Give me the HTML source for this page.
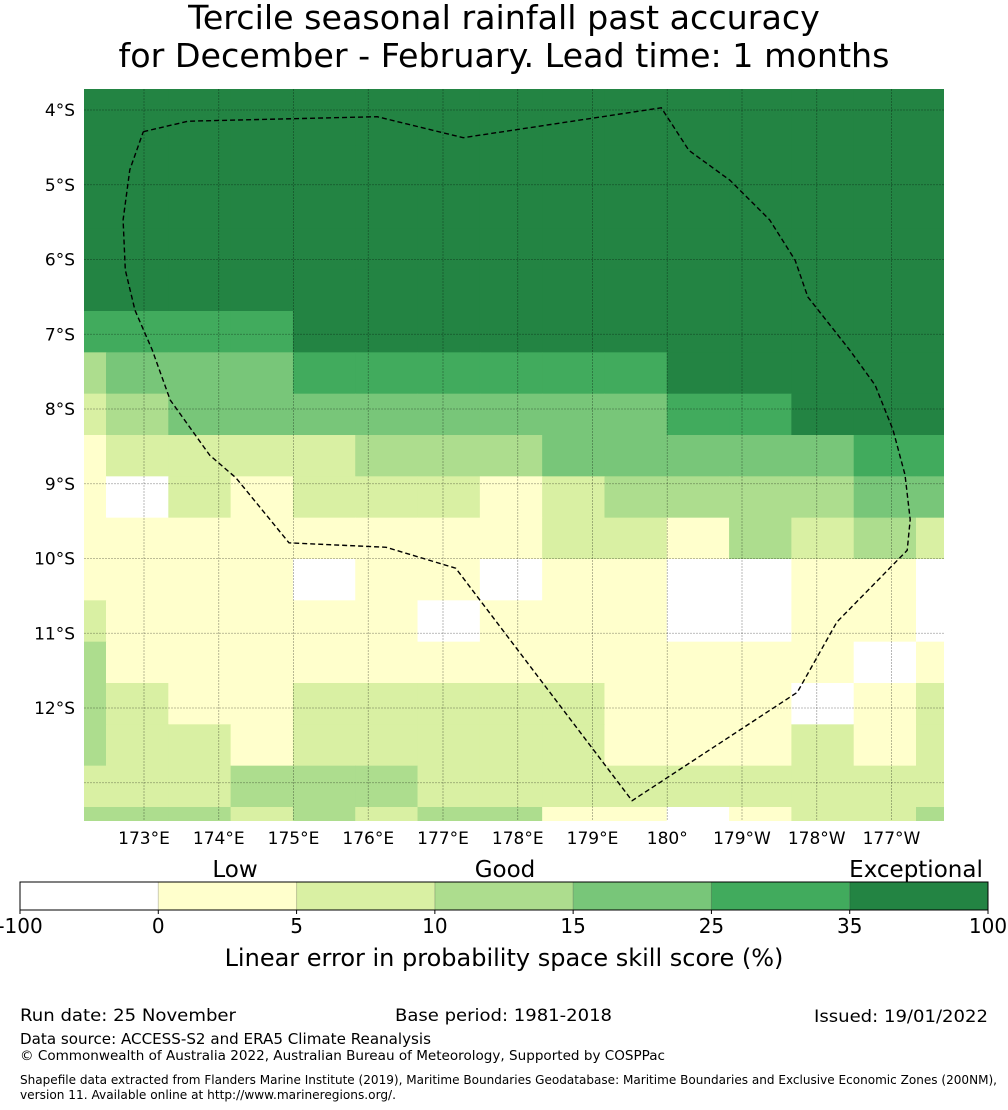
<!DOCTYPE html>
<html><head><meta charset="utf-8">
<style>
html,body{margin:0;padding:0;background:#fff;}
svg{display:block;font-family:"DejaVu Sans","Liberation Sans",sans-serif;}
</style></head>
<body>
<svg id="chart" width="1008" height="1110" viewBox="0 0 1008 1110" xmlns="http://www.w3.org/2000/svg">
  <text x="504" y="29" font-size="33.3" text-anchor="middle">Tercile seasonal rainfall past accuracy</text>
  <text x="504" y="67" font-size="33.3" text-anchor="middle">for December - February. Lead time: 1 months</text>
  <defs><clipPath id="mapclip"><rect x="84" y="89" width="860" height="732"/></clipPath></defs>
  <g id="map" clip-path="url(#mapclip)"></g>
  <g id="lataxis"></g>
  <g id="lonaxis"></g>
  <g id="colorbar"></g>
  <text x="504" y="966" font-size="24" text-anchor="middle">Linear error in probability space skill score (%)</text>
  <g fill="#000">
    <text x="20" y="1021" font-size="17" textLength="216" lengthAdjust="spacingAndGlyphs">Run date: 25 November</text>
    <text x="395" y="1021" font-size="17" textLength="217" lengthAdjust="spacingAndGlyphs">Base period: 1981-2018</text>
    <text x="814" y="1022" font-size="17" textLength="174" lengthAdjust="spacingAndGlyphs">Issued: 19/01/2022</text>
    <text x="20" y="1044" font-size="15" textLength="411" lengthAdjust="spacingAndGlyphs">Data source: ACCESS-S2 and ERA5 Climate Reanalysis</text>
    <text x="20" y="1060" font-size="13" textLength="645" lengthAdjust="spacingAndGlyphs">© Commonwealth of Australia 2022, Australian Bureau of Meteorology, Supported by COSPPac</text>
    <text x="20" y="1084" font-size="12" textLength="977" lengthAdjust="spacingAndGlyphs">Shapefile data extracted from Flanders Marine Institute (2019), Maritime Boundaries Geodatabase: Maritime Boundaries and Exclusive Economic Zones (200NM),</text>
    <text x="20" y="1099" font-size="12" textLength="376" lengthAdjust="spacingAndGlyphs">version 11. Available online at http://www.marineregions.org/.</text>
  </g>
</svg>
<script>
// skill category per cell (0=<0 ... 6=35-100), rows top to bottom, cols west to east
const skillRows = [
  [6,6,6,6,6,6,6,6,6,6,6,6,6,6,6],
  [6,6,6,6,6,6,6,6,6,6,6,6,6,6,6],
  [6,6,6,6,6,6,6,6,6,6,6,6,6,6,6],
  [6,6,6,6,6,6,6,6,6,6,6,6,6,6,6],
  [6,6,6,6,6,6,6,6,6,6,6,6,6,6,6],
  [6,6,6,6,6,6,6,6,6,6,6,6,6,6,6],
  [5,5,5,5,6,6,6,6,6,6,6,6,6,6,6],
  [3,4,4,4,5,5,5,5,5,5,6,6,6,6,6],
  [2,3,4,4,4,4,4,4,4,4,5,5,6,6,6],
  [1,2,2,2,2,3,3,3,4,4,4,4,4,5,5],
  [1,0,2,1,2,2,2,1,2,3,3,3,3,4,4],
  [1,1,1,1,1,1,1,1,2,2,1,3,2,3,2],
  [1,1,1,1,0,1,1,0,1,1,0,0,1,1,0],
  [2,1,1,1,1,1,0,1,1,1,0,0,1,1,0],
  [3,1,1,1,1,1,1,1,1,1,1,1,1,0,1],
  [3,2,1,1,2,2,2,2,2,1,1,1,0,1,2],
  [3,2,2,1,2,2,2,2,2,1,1,1,2,1,2],
  [2,2,2,3,3,3,2,2,2,2,2,2,2,2,2],
  [3,3,3,2,3,2,3,3,1,1,0,1,2,2,3]
];
const levelColors = ["#ffffff","#ffffcc","#d9f0a3","#addd8e","#78c679","#41ab5d","#238443"];
const cbTicks = ["-100","0","5","10","15","25","35","100"];
const cbCategories = ["Low","Good","Exceptional"];
const latLabels = ["4°S","5°S","6°S","7°S","8°S","9°S","10°S","11°S","12°S"];
const latValues = [4,5,6,7,8,9,10,11,12,13];
const lonLabels = ["173°E","174°E","175°E","176°E","177°E","178°E","179°E","180°","179°W","178°W","177°W"];
const lonValues = [173,174,175,176,177,178,179,180,181,182,183];
const eezLon = [172.99,173.59,176.12,177.27,179.92,180.29,180.84,181.37,181.71,181.88,182.44,182.78,183.02,183.18,183.25,183.21,182.27,181.74,179.53,177.17,176.24,174.94,174.23,173.88,173.35,173.11,172.88,172.75,172.72,172.81,172.99];
const eezLat = [4.29,4.15,4.09,4.37,3.97,4.54,4.94,5.47,6.01,6.50,7.21,7.68,8.28,8.88,9.48,9.89,10.85,11.79,13.24,10.13,9.85,9.79,8.92,8.62,7.88,7.21,6.68,6.14,5.47,4.80,4.29];

const NS="http://www.w3.org/2000/svg";
const map=document.getElementById('map');
const colW=(916-106)/13, colX0=106-colW;
const rowH=(807-311)/12, rowY0=311-6*rowH;
const xLon=lon=>144+(lon-173)*74.75;
const yLat=lat=>110+(lat-4)*74.75;
function mk(tag,attrs,parent){const e=document.createElementNS(NS,tag);for(const k in attrs)e.setAttribute(k,attrs[k]);parent.appendChild(e);return e;}

skillRows.forEach((row,r)=>{
  row.forEach((v,c)=>{
    const rect=mk('rect',{x:colX0+c*colW,y:rowY0+r*rowH,width:colW+0.5,height:rowH+0.5,fill:levelColors[v]},map);
    
    
  });
});
lonValues.forEach(lon=>{
  const l=mk('line',{x1:xLon(lon),x2:xLon(lon),y1:89,y2:821,stroke:'#000','stroke-opacity':0.35,'stroke-width':0.8,'stroke-dasharray':'2,1'},map);
  
  
});
latValues.forEach(lat=>{
  const l=mk('line',{x1:84,x2:944,y1:yLat(lat),y2:yLat(lat),stroke:'#000','stroke-opacity':0.35,'stroke-width':0.8,'stroke-dasharray':'2,1'},map);
  
  
});
const pts=eezLon.map((lo,i)=>xLon(lo).toFixed(1)+','+yLat(eezLat[i]).toFixed(1)).join(' ');
const eez=mk('polyline',{points:pts,fill:'none',stroke:'#000','stroke-width':1.4,'stroke-dasharray':'5,3'},map);



const latAxis=document.getElementById('lataxis');
latLabels.forEach((t,i)=>{
  const e=mk('text',{x:75,y:yLat(latValues[i])+6,'font-size':17,'text-anchor':'end'},latAxis);
  e.textContent=t;
  
  
});
const lonAxis=document.getElementById('lonaxis');
lonLabels.forEach((t,i)=>{
  const e=mk('text',{x:xLon(lonValues[i]),y:844,'font-size':17,'text-anchor':'middle'},lonAxis);
  e.textContent=t;
  
  
});

const cb=document.getElementById('colorbar');
const cbX=20,cbW=968,cbY=882,cbH=28,segW=cbW/levelColors.length;
levelColors.forEach((col,i)=>{
  const s=mk('rect',{x:cbX+i*segW,y:cbY,width:segW,height:cbH,fill:col},cb);
  
  
  if(i>0){mk('line',{x1:cbX+i*segW,x2:cbX+i*segW,y1:cbY,y2:cbY+cbH,stroke:'#000','stroke-opacity':0.2,'stroke-width':1},cb);}
});
mk('rect',{x:cbX,y:cbY,width:cbW,height:cbH,fill:'none',stroke:'#000','stroke-width':1},cb);
cbTicks.forEach((t,i)=>{
  const x=cbX+i*segW;
  mk('line',{x1:x,x2:x,y1:cbY+cbH,y2:cbY+cbH+4,stroke:'#000','stroke-width':1},cb);
  const e=mk('text',{x:x,y:933,'font-size':20,'text-anchor':'middle'},cb);
  e.textContent=t;
  
  
});
const catX=[235,505,916];
cbCategories.forEach((t,i)=>{
  const e=mk('text',{x:catX[i],y:877,'font-size':23,'text-anchor':'middle'},cb);
  e.textContent=t;
  
  
});
</script>
</body></html>
